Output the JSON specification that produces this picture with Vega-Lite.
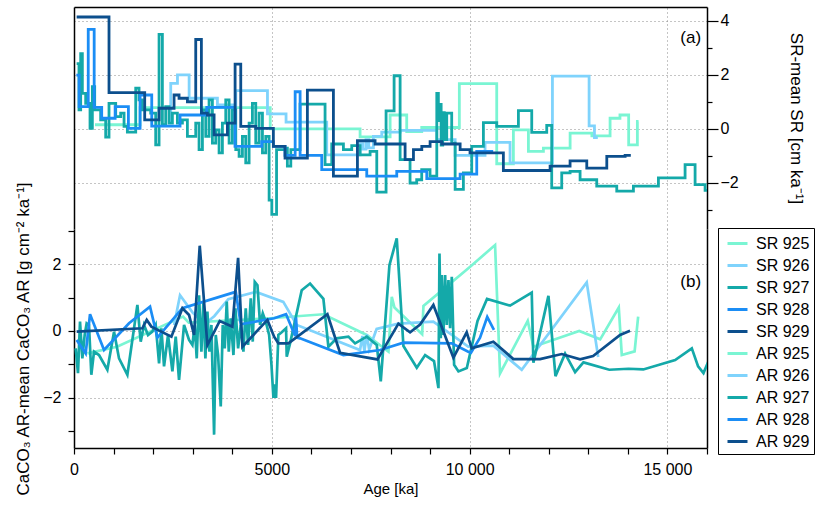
{
"$schema": "https://vega.github.io/schema/vega-lite/v6.json",
"padding": {"left": 14, "top": 7, "right": 5, "bottom": 5},
"background": "white",
"config": {
 "font": "Liberation Sans",
 "view": {"stroke": null},
 "axis": {"labelFont": "Liberation Sans", "titleFont": "Liberation Sans", "labelFontSize": 16, "titleFontSize": 15, "titleFontWeight": "normal", "labelColor": "black", "titleColor": "black", "domainColor": "black", "tickColor": "black", "domainWidth": 1.5, "tickWidth": 1.2, "gridColor": "#8a8a8a", "gridDash": [1, 3], "gridWidth": 1},
 "legend": {"labelFont": "Liberation Sans", "labelFontSize": 16, "labelColor": "black", "strokeColor": "black", "fillColor": "white", "padding": 4, "rowPadding": 2, "labelOffset": 7, "symbolOffset": 4, "symbolType": "stroke", "symbolStrokeWidth": 3, "symbolSize": 400}
},
"datasets": {
 "sr": [
  {"s":"SR 925","a":530,"v":0.15},{"s":"SR 925","a":1670,"v":0.78},{"s":"SR 925","a":4960,"v":0.0},{"s":"SR 925","a":7231,"v":-0.3},{"s":"SR 925","a":7990,"v":0.51},{"s":"SR 925","a":8410,"v":-0.1},{"s":"SR 925","a":8790,"v":0.05},{"s":"SR 925","a":9740,"v":1.67},{"s":"SR 925","a":10685,"v":-1.29},{"s":"SR 925","a":11106,"v":-0.04},{"s":"SR 925","a":11486,"v":-0.83},{"s":"SR 925","a":11865,"v":-0.71},{"s":"SR 925","a":12540,"v":-0.16},{"s":"SR 925","a":13090,"v":-0.26},{"s":"SR 925","a":13550,"v":0.39},{"s":"SR 925","a":13800,"v":0.51},{"s":"SR 925","a":14020,"v":-0.59},{"s":"SR 925","a":14240,"v":0.27},{"s":"SR 925","a":14270,"v":0.27},
  {"s":"SR 926","a":2400,"v":0.3},{"s":"SR 926","a":2445,"v":1.68},{"s":"SR 926","a":2615,"v":1.99},{"s":"SR 926","a":2910,"v":1.13},{"s":"SR 926","a":3625,"v":0.88},{"s":"SR 926","a":4090,"v":1.41},{"s":"SR 926","a":4890,"v":0.55},{"s":"SR 926","a":5360,"v":0.25},{"s":"SR 926","a":6388,"v":-0.96},{"s":"SR 926","a":7231,"v":-0.55},{"s":"SR 926","a":7300,"v":-0.75},{"s":"SR 926","a":7380,"v":-0.4},{"s":"SR 926","a":7450,"v":-0.7},{"s":"SR 926","a":7568,"v":-0.28},{"s":"SR 926","a":7779,"v":-0.12},{"s":"SR 926","a":8243,"v":-0.06},{"s":"SR 926","a":9170,"v":-0.4},{"s":"SR 926","a":9634,"v":-0.98},{"s":"SR 926","a":10390,"v":-0.5},{"s":"SR 926","a":11022,"v":-1.26},{"s":"SR 926","a":12093,"v":1.95},{"s":"SR 926","a":13020,"v":0.11},{"s":"SR 926","a":13155,"v":-0.32},{"s":"SR 926","a":13240,"v":-0.32},
  {"s":"SR 927","a":67,"v":2.41},{"s":"SR 927","a":126,"v":0.7},{"s":"SR 927","a":169,"v":2.78},{"s":"SR 927","a":211,"v":1.31},{"s":"SR 927","a":295,"v":0.94},{"s":"SR 927","a":405,"v":0.02},{"s":"SR 927","a":464,"v":1.56},{"s":"SR 927","a":523,"v":0.7},{"s":"SR 927","a":674,"v":0.33},{"s":"SR 927","a":801,"v":-0.31},{"s":"SR 927","a":885,"v":0.94},{"s":"SR 927","a":1054,"v":0.45},{"s":"SR 927","a":1180,"v":0.58},{"s":"SR 927","a":1265,"v":0.09},{"s":"SR 927","a":1349,"v":-0.12},{"s":"SR 927","a":1560,"v":1.5},{"s":"SR 927","a":1644,"v":1.07},{"s":"SR 927","a":1728,"v":0.7},{"s":"SR 927","a":1939,"v":0.58},{"s":"SR 927","a":2065,"v":-0.59},{"s":"SR 927","a":2150,"v":3.49},{"s":"SR 927","a":2234,"v":0.15},{"s":"SR 927","a":2318,"v":0.82},{"s":"SR 927","a":2403,"v":0.21},{"s":"SR 927","a":2487,"v":0.58},{"s":"SR 927","a":2613,"v":0.21},{"s":"SR 927","a":2740,"v":0.33},{"s":"SR 927","a":2866,"v":-0.28},{"s":"SR 927","a":3077,"v":0.21},{"s":"SR 927","a":3161,"v":-0.77},{"s":"SR 927","a":3246,"v":0.7},{"s":"SR 927","a":3330,"v":-0.28},{"s":"SR 927","a":3414,"v":1.07},{"s":"SR 927","a":3498,"v":-0.53},{"s":"SR 927","a":3583,"v":-0.04},{"s":"SR 927","a":3667,"v":-0.89},{"s":"SR 927","a":3751,"v":0.21},{"s":"SR 927","a":3836,"v":1.07},{"s":"SR 927","a":3920,"v":-0.53},{"s":"SR 927","a":4004,"v":0.7},{"s":"SR 927","a":4089,"v":-0.77},{"s":"SR 927","a":4173,"v":-1.02},{"s":"SR 927","a":4257,"v":-0.28},{"s":"SR 927","a":4341,"v":-1.26},{"s":"SR 927","a":4426,"v":0.21},{"s":"SR 927","a":4510,"v":0.94},{"s":"SR 927","a":4594,"v":-0.53},{"s":"SR 927","a":4679,"v":0.58},{"s":"SR 927","a":4763,"v":-0.89},{"s":"SR 927","a":4847,"v":-0.28},{"s":"SR 927","a":4932,"v":-2.63},{"s":"SR 927","a":5000,"v":-3.16},{"s":"SR 927","a":5120,"v":-0.77},{"s":"SR 927","a":5334,"v":-0.71},{"s":"SR 927","a":5393,"v":-1.38},{"s":"SR 927","a":5480,"v":-0.77},{"s":"SR 927","a":5714,"v":0.91},{"s":"SR 927","a":6346,"v":-1.32},{"s":"SR 927","a":6515,"v":-0.56},{"s":"SR 927","a":6810,"v":-0.77},{"s":"SR 927","a":7020,"v":-0.62},{"s":"SR 927","a":7231,"v":-0.96},{"s":"SR 927","a":7484,"v":-0.83},{"s":"SR 927","a":7653,"v":-2.34},{"s":"SR 927","a":7888,"v":0.66},{"s":"SR 927","a":8091,"v":1.96},{"s":"SR 927","a":8243,"v":-1.14},{"s":"SR 927","a":8494,"v":-2.0},{"s":"SR 927","a":8662,"v":-1.88},{"s":"SR 927","a":8789,"v":-1.51},{"s":"SR 927","a":8999,"v":-1.75},{"s":"SR 927","a":9170,"v":1.31},{"s":"SR 927","a":9210,"v":0.3},{"s":"SR 927","a":9240,"v":0.9},{"s":"SR 927","a":9280,"v":-0.6},{"s":"SR 927","a":9320,"v":0.6},{"s":"SR 927","a":9360,"v":-0.4},{"s":"SR 927","a":9421,"v":0.58},{"s":"SR 927","a":9547,"v":-0.53},{"s":"SR 927","a":9634,"v":-2.24},{"s":"SR 927","a":9842,"v":-1.63},{"s":"SR 927","a":10053,"v":-0.65},{"s":"SR 927","a":10348,"v":0.23},{"s":"SR 927","a":10685,"v":0.09},{"s":"SR 927","a":11233,"v":0.67},{"s":"SR 927","a":11570,"v":-0.13},{"s":"SR 927","a":11949,"v":0.13},{"s":"SR 927","a":12075,"v":-2.18},{"s":"SR 927","a":12328,"v":-1.63},{"s":"SR 927","a":12539,"v":-1.57},{"s":"SR 927","a":12792,"v":-1.88},{"s":"SR 927","a":13213,"v":-2.12},{"s":"SR 927","a":13719,"v":-2.3},{"s":"SR 927","a":14140,"v":-2.12},{"s":"SR 927","a":14772,"v":-1.81},{"s":"SR 927","a":15446,"v":-1.32},{"s":"SR 927","a":15699,"v":-2.06},{"s":"SR 927","a":15952,"v":-2.27},{"s":"SR 927","a":16100,"v":-2.27},
  {"s":"SR 928","a":60,"v":1.98},{"s":"SR 928","a":130,"v":0.82},{"s":"SR 928","a":360,"v":3.67},{"s":"SR 928","a":510,"v":0.79},{"s":"SR 928","a":700,"v":0.39},{"s":"SR 928","a":1040,"v":0.82},{"s":"SR 928","a":1375,"v":0.02},{"s":"SR 928","a":1670,"v":1.25},{"s":"SR 928","a":1965,"v":0.1},{"s":"SR 928","a":2680,"v":0.51},{"s":"SR 928","a":3355,"v":0.79},{"s":"SR 928","a":4070,"v":-0.65},{"s":"SR 928","a":4745,"v":-0.47},{"s":"SR 928","a":5040,"v":-0.65},{"s":"SR 928","a":5334,"v":-0.98},{"s":"SR 928","a":5590,"v":1.37},{"s":"SR 928","a":5715,"v":-0.98},{"s":"SR 928","a":6262,"v":-1.51},{"s":"SR 928","a":7400,"v":-1.75},{"s":"SR 928","a":8158,"v":-1.57},{"s":"SR 928","a":8917,"v":-1.84},{"s":"SR 928","a":9760,"v":-1.67},{"s":"SR 928","a":10180,"v":-0.83},{"s":"SR 928","a":10560,"v":-0.89},
  {"s":"SR 929","a":67,"v":4.13},{"s":"SR 929","a":885,"v":1.34},{"s":"SR 929","a":1787,"v":0.33},{"s":"SR 929","a":2150,"v":0.76},{"s":"SR 929","a":2529,"v":1.25},{"s":"SR 929","a":2655,"v":1.13},{"s":"SR 929","a":2866,"v":1.0},{"s":"SR 929","a":3077,"v":3.3},{"s":"SR 929","a":3220,"v":0.58},{"s":"SR 929","a":3372,"v":0.51},{"s":"SR 929","a":3541,"v":-0.22},{"s":"SR 929","a":3878,"v":0.21},{"s":"SR 929","a":4072,"v":2.39},{"s":"SR 929","a":4215,"v":0.09},{"s":"SR 929","a":4594,"v":0.02},{"s":"SR 929","a":5039,"v":-0.65},{"s":"SR 929","a":5334,"v":-1.08},{"s":"SR 929","a":5899,"v":1.43},{"s":"SR 929","a":6557,"v":-1.75},{"s":"SR 929","a":7164,"v":-0.44},{"s":"SR 929","a":7610,"v":-0.56},{"s":"SR 929","a":8369,"v":-1.14},{"s":"SR 929","a":8580,"v":-0.77},{"s":"SR 929","a":8791,"v":-0.65},{"s":"SR 929","a":9001,"v":-0.47},{"s":"SR 929","a":9296,"v":-0.56},{"s":"SR 929","a":9760,"v":-0.77},{"s":"SR 929","a":10010,"v":-0.89},{"s":"SR 929","a":10853,"v":-1.54},{"s":"SR 929","a":12034,"v":-1.38},{"s":"SR 929","a":12539,"v":-1.18},{"s":"SR 929","a":12961,"v":-1.45},{"s":"SR 929","a":13467,"v":-1.02},{"s":"SR 929","a":13930,"v":-0.98},{"s":"SR 929","a":14074,"v":-0.98}
 ],
 "ar": [
  {"s":"AR 925","a":337,"v":-0.67},{"s":"AR 925","a":1087,"v":-0.47},{"s":"AR 925","a":2756,"v":0.43},{"s":"AR 925","a":2900,"v":0.25},{"s":"AR 925","a":4955,"v":0.38},{"s":"AR 925","a":6304,"v":0.5},{"s":"AR 925","a":7400,"v":-0.12},{"s":"AR 925","a":7948,"v":-0.62},{"s":"AR 925","a":8032,"v":1.02},{"s":"AR 925","a":8100,"v":0.7},{"s":"AR 925","a":8800,"v":-0.1},{"s":"AR 925","a":8833,"v":0.75},{"s":"AR 925","a":10013,"v":1.92},{"s":"AR 925","a":10643,"v":2.57},{"s":"AR 925","a":10769,"v":-1.27},{"s":"AR 925","a":11469,"v":0.3},{"s":"AR 925","a":11612,"v":-0.47},{"s":"AR 925","a":12034,"v":-0.3},{"s":"AR 925","a":12770,"v":0.0},{"s":"AR 925","a":13300,"v":-0.25},{"s":"AR 925","a":13770,"v":0.7},{"s":"AR 925","a":13846,"v":-0.72},{"s":"AR 925","a":14170,"v":-0.61},{"s":"AR 925","a":14260,"v":0.43},
  {"s":"AR 926","a":2530,"v":0.18},{"s":"AR 926","a":2680,"v":1.07},{"s":"AR 926","a":3000,"v":0.55},{"s":"AR 926","a":3300,"v":0.2},{"s":"AR 926","a":3550,"v":0.45},{"s":"AR 926","a":3900,"v":0.95},{"s":"AR 926","a":4600,"v":1.17},{"s":"AR 926","a":5290,"v":0.87},{"s":"AR 926","a":5630,"v":0.18},{"s":"AR 926","a":7230,"v":-0.57},{"s":"AR 926","a":7290,"v":-0.15},{"s":"AR 926","a":7340,"v":-0.6},{"s":"AR 926","a":7400,"v":-0.1},{"s":"AR 926","a":7460,"v":-0.55},{"s":"AR 926","a":7650,"v":0.06},{"s":"AR 926","a":8200,"v":0.22},{"s":"AR 926","a":9083,"v":0.28},{"s":"AR 926","a":9965,"v":-0.47},{"s":"AR 926","a":10600,"v":-0.44},{"s":"AR 926","a":11317,"v":-1.16},{"s":"AR 926","a":12960,"v":1.45},{"s":"AR 926","a":13250,"v":-0.78},
  {"s":"AR 927","a":42,"v":-0.52},{"s":"AR 927","a":101,"v":-1.26},{"s":"AR 927","a":152,"v":0.28},{"s":"AR 927","a":211,"v":-0.82},{"s":"AR 927","a":270,"v":-0.12},{"s":"AR 927","a":320,"v":0.23},{"s":"AR 927","a":379,"v":0.18},{"s":"AR 927","a":438,"v":-1.31},{"s":"AR 927","a":506,"v":-0.62},{"s":"AR 927","a":632,"v":-0.72},{"s":"AR 927","a":843,"v":-1.16},{"s":"AR 927","a":1012,"v":-0.02},{"s":"AR 927","a":1138,"v":-0.82},{"s":"AR 927","a":1349,"v":-1.31},{"s":"AR 927","a":1602,"v":0.78},{"s":"AR 927","a":1686,"v":-0.32},{"s":"AR 927","a":1770,"v":0.18},{"s":"AR 927","a":1871,"v":-0.12},{"s":"AR 927","a":1981,"v":-0.02},{"s":"AR 927","a":2065,"v":0.18},{"s":"AR 927","a":2150,"v":-0.97},{"s":"AR 927","a":2209,"v":0.08},{"s":"AR 927","a":2276,"v":-1.06},{"s":"AR 927","a":2377,"v":-0.12},{"s":"AR 927","a":2487,"v":-1.21},{"s":"AR 927","a":2571,"v":-0.17},{"s":"AR 927","a":2655,"v":-1.46},{"s":"AR 927","a":2782,"v":0.18},{"s":"AR 927","a":2908,"v":-0.27},{"s":"AR 927","a":2993,"v":-0.42},{"s":"AR 927","a":3052,"v":0.18},{"s":"AR 927","a":3102,"v":-0.82},{"s":"AR 927","a":3161,"v":1.07},{"s":"AR 927","a":3220,"v":-0.62},{"s":"AR 927","a":3271,"v":0.88},{"s":"AR 927","a":3321,"v":-0.82},{"s":"AR 927","a":3372,"v":0.58},{"s":"AR 927","a":3423,"v":-0.62},{"s":"AR 927","a":3473,"v":0.18},{"s":"AR 927","a":3541,"v":-3.1},{"s":"AR 927","a":3583,"v":-0.12},{"s":"AR 927","a":3642,"v":-0.72},{"s":"AR 927","a":3709,"v":-2.26},{"s":"AR 927","a":3760,"v":0.18},{"s":"AR 927","a":3810,"v":-0.52},{"s":"AR 927","a":3861,"v":0.88},{"s":"AR 927","a":3912,"v":-0.62},{"s":"AR 927","a":3962,"v":0.38},{"s":"AR 927","a":4030,"v":-0.72},{"s":"AR 927","a":4080,"v":0.68},{"s":"AR 927","a":4148,"v":-0.52},{"s":"AR 927","a":4215,"v":0.18},{"s":"AR 927","a":4282,"v":-0.62},{"s":"AR 927","a":4341,"v":0.68},{"s":"AR 927","a":4400,"v":-0.42},{"s":"AR 927","a":4468,"v":0.98},{"s":"AR 927","a":4518,"v":-0.32},{"s":"AR 927","a":4569,"v":1.47},{"s":"AR 927","a":4637,"v":1.37},{"s":"AR 927","a":4704,"v":0.18},{"s":"AR 927","a":4771,"v":0.53},{"s":"AR 927","a":4847,"v":0.28},{"s":"AR 927","a":4932,"v":-0.12},{"s":"AR 927","a":4991,"v":-1.01},{"s":"AR 927","a":5041,"v":-2.0},{"s":"AR 927","a":5070,"v":-1.6},{"s":"AR 927","a":5107,"v":-2.0},{"s":"AR 927","a":5166,"v":-0.12},{"s":"AR 927","a":5250,"v":-0.04},{"s":"AR 927","a":5360,"v":0.08},{"s":"AR 927","a":5377,"v":-0.77},{"s":"AR 927","a":5461,"v":-0.37},{"s":"AR 927","a":5756,"v":1.22},{"s":"AR 927","a":5967,"v":1.42},{"s":"AR 927","a":6304,"v":0.96},{"s":"AR 927","a":6430,"v":-0.47},{"s":"AR 927","a":6641,"v":-0.22},{"s":"AR 927","a":6936,"v":-0.17},{"s":"AR 927","a":7105,"v":-0.37},{"s":"AR 927","a":7400,"v":-0.17},{"s":"AR 927","a":7653,"v":-0.42},{"s":"AR 927","a":7754,"v":-1.51},{"s":"AR 927","a":7973,"v":1.97},{"s":"AR 927","a":8158,"v":2.77},{"s":"AR 927","a":8327,"v":-0.45},{"s":"AR 927","a":8664,"v":-1.1},{"s":"AR 927","a":8875,"v":-0.72},{"s":"AR 927","a":9100,"v":-0.9},{"s":"AR 927","a":9212,"v":-1.71},{"s":"AR 927","a":9238,"v":2.32},{"s":"AR 927","a":9271,"v":-0.22},{"s":"AR 927","a":9296,"v":1.67},{"s":"AR 927","a":9339,"v":-0.12},{"s":"AR 927","a":9381,"v":1.67},{"s":"AR 927","a":9423,"v":0.18},{"s":"AR 927","a":9465,"v":1.52},{"s":"AR 927","a":9507,"v":0.08},{"s":"AR 927","a":9549,"v":1.62},{"s":"AR 927","a":9608,"v":-1.01},{"s":"AR 927","a":9718,"v":-1.21},{"s":"AR 927","a":9929,"v":-1.11},{"s":"AR 927","a":10200,"v":0.3},{"s":"AR 927","a":10440,"v":0.96},{"s":"AR 927","a":11022,"v":0.76},{"s":"AR 927","a":11570,"v":1.15},{"s":"AR 927","a":11612,"v":-0.95},{"s":"AR 927","a":11992,"v":1.05},{"s":"AR 927","a":12170,"v":-1.35},{"s":"AR 927","a":12413,"v":-0.68},{"s":"AR 927","a":12666,"v":-1.23},{"s":"AR 927","a":12877,"v":-0.94},{"s":"AR 927","a":13530,"v":-1.16},{"s":"AR 927","a":14015,"v":-1.13},{"s":"AR 927","a":14390,"v":-1.15},{"s":"AR 927","a":15195,"v":-0.87},{"s":"AR 927","a":15616,"v":-0.52},{"s":"AR 927","a":15775,"v":-1.06},{"s":"AR 927","a":15911,"v":-1.26},{"s":"AR 927","a":16038,"v":-0.9},
  {"s":"AR 928","a":67,"v":-0.27},{"s":"AR 928","a":295,"v":-0.67},{"s":"AR 928","a":405,"v":0.5},{"s":"AR 928","a":759,"v":-0.57},{"s":"AR 928","a":1391,"v":0.23},{"s":"AR 928","a":1922,"v":0.73},{"s":"AR 928","a":2108,"v":-0.2},{"s":"AR 928","a":2740,"v":0.68},{"s":"AR 928","a":4089,"v":1.17},{"s":"AR 928","a":4215,"v":0.2},{"s":"AR 928","a":5058,"v":0.38},{"s":"AR 928","a":5360,"v":0.5},{"s":"AR 928","a":5590,"v":-0.15},{"s":"AR 928","a":5612,"v":0.4},{"s":"AR 928","a":5640,"v":-0.2},{"s":"AR 928","a":5714,"v":-0.22},{"s":"AR 928","a":6810,"v":-0.72},{"s":"AR 928","a":7737,"v":-0.57},{"s":"AR 928","a":8327,"v":-0.35},{"s":"AR 928","a":9550,"v":-0.37},{"s":"AR 928","a":9965,"v":-0.62},{"s":"AR 928","a":10036,"v":-0.65},{"s":"AR 928","a":10263,"v":-0.2},{"s":"AR 928","a":10445,"v":0.42},{"s":"AR 928","a":10615,"v":0.03},
  {"s":"AR 929","a":67,"v":-0.02},{"s":"AR 929","a":1728,"v":0.08},{"s":"AR 929","a":1838,"v":0.33},{"s":"AR 929","a":1956,"v":0.13},{"s":"AR 929","a":2462,"v":-0.17},{"s":"AR 929","a":2740,"v":0.68},{"s":"AR 929","a":2908,"v":0.48},{"s":"AR 929","a":3035,"v":-0.12},{"s":"AR 929","a":3178,"v":2.55},{"s":"AR 929","a":3372,"v":-0.42},{"s":"AR 929","a":3684,"v":0.3},{"s":"AR 929","a":4004,"v":0.13},{"s":"AR 929","a":4148,"v":2.19},{"s":"AR 929","a":4257,"v":-0.47},{"s":"AR 929","a":4889,"v":0.33},{"s":"AR 929","a":5058,"v":-0.17},{"s":"AR 929","a":5166,"v":-0.37},{"s":"AR 929","a":5419,"v":-0.37},{"s":"AR 929","a":6405,"v":0.5},{"s":"AR 929","a":6725,"v":-0.65},{"s":"AR 929","a":7670,"v":-0.85},{"s":"AR 929","a":8200,"v":0.22},{"s":"AR 929","a":8495,"v":-0.04},{"s":"AR 929","a":8748,"v":0.19},{"s":"AR 929","a":9084,"v":0.78},{"s":"AR 929","a":9590,"v":-0.8},{"s":"AR 929","a":9926,"v":-0.04},{"s":"AR 929","a":10053,"v":-0.52},{"s":"AR 929","a":10600,"v":-0.32},{"s":"AR 929","a":11106,"v":-0.84},{"s":"AR 929","a":11781,"v":-0.84},{"s":"AR 929","a":12329,"v":-0.69},{"s":"AR 929","a":12792,"v":-0.85},{"s":"AR 929","a":13121,"v":-0.75},{"s":"AR 929","a":13803,"v":-0.12},{"s":"AR 929","a":14055,"v":0.01}
 ]
},
"spacing": 0,
"bounds": "flush",
"vconcat": [
 {
  "width": 633, "height": 222,
  "layer": [
   {
    "data": {"name": "sr"},
    "mark": {"type": "line", "interpolate": "step-after", "strokeWidth": 2.8, "clip": true},
    "encoding": {
     "x": {"field": "a", "type": "quantitative", "scale": {"domain": [0, 16000], "nice": false, "zero": false}, "axis": {"orient": "top", "values": [0, 5000, 10000, 15000], "labels": false, "ticks": false, "grid": true, "title": null}},
     "y": {"field": "v", "type": "quantitative", "scale": {"domain": [-3.7, 4.5], "nice": false, "zero": false}, "axis": {"orient": "right", "values": [-3, -2, -1, 0, 1, 2, 3, 4], "labelExpr": "datum.value % 2 === 0 ? datum.label : ''", "labelOverlap": false, "grid": true, "gridOpacity": {"condition": {"test": "datum.value % 2 === 0", "value": 1}, "value": 0}, "tickSize": {"condition": {"test": "datum.value % 2 === 0", "value": 11}, "value": 5}, "labelPadding": 2, "title": "SR-mean SR [cm ka⁻¹]", "titleFontSize": 17, "titleAngle": 90, "titlePadding": 48}},
     "color": {"field": "s", "type": "nominal", "scale": {"domain": ["SR 925","SR 926","SR 927","SR 928","SR 929","AR 925","AR 926","AR 927","AR 928","AR 929"], "range": ["#7af5d3","#7fd3fc","#14a9a9","#1b8df5","#0c4f8d","#7af5d3","#7fd3fc","#14a9a9","#1b8df5","#0c4f8d"]}, "legend": {"orient": "none", "legendX": 644, "legendY": 221, "title": null}}
    }
   },
   {
    "data": {"values": [{"t": "(a)", "a": 15850, "v": 3.35}]},
    "mark": {"type": "text", "align": "right", "baseline": "middle", "fontSize": 17, "font": "Liberation Sans", "color": "black"},
    "encoding": {
     "x": {"field": "a", "type": "quantitative", "axis": {"orient": "top", "values": [0, 5000, 10000, 15000], "labels": false, "ticks": false, "grid": true, "title": null}},
     "y": {"field": "v", "type": "quantitative", "axis": {"orient": "left", "labels": false, "ticks": false, "grid": false, "title": null}},
     "text": {"field": "t"}
    }
   }
  ],
  "resolve": {"axis": {"y": "independent"}}
 },
 {
  "width": 633, "height": 219,
  "layer": [
   {
    "data": {"name": "ar"},
    "mark": {"type": "line", "strokeWidth": 2.7, "clip": true},
    "encoding": {
     "x": {"field": "a", "type": "quantitative", "scale": {"domain": [0, 16000], "nice": false, "zero": false}, "axis": {"orient": "bottom", "values": [0,1000,2000,3000,4000,5000,6000,7000,8000,9000,10000,11000,12000,13000,14000,15000,16000], "labelExpr": "datum.value === 0 ? '0' : datum.value === 5000 ? '5000' : datum.value === 10000 ? '10 000' : datum.value === 15000 ? '15 000' : ''", "labelOverlap": false, "labelFlush": false, "grid": true, "gridOpacity": {"condition": {"test": "datum.value % 5000 === 0", "value": 1}, "value": 0}, "tickSize": 6, "labelPadding": 7, "title": "Age [ka]", "titlePadding": 4}},
     "y": {"field": "v", "type": "quantitative", "scale": {"domain": [-3.5, 3.05], "nice": false, "zero": false}, "axis": {"orient": "left", "values": [-3, -2, -1, 0, 1, 2, 3], "labelExpr": "datum.value % 2 === 0 ? datum.label : ''", "labelOverlap": false, "grid": true, "gridOpacity": {"condition": {"test": "datum.value % 2 === 0", "value": 1}, "value": 0}, "tickSize": 6, "labelPadding": 7, "title": "CaCO₃ AR-mean CaCO₃ AR [g cm⁻² ka⁻¹]", "titleFontSize": 17, "titlePadding": 10}},
     "color": {"field": "s", "type": "nominal", "scale": {"domain": ["SR 925","SR 926","SR 927","SR 928","SR 929","AR 925","AR 926","AR 927","AR 928","AR 929"], "range": ["#7af5d3","#7fd3fc","#14a9a9","#1b8df5","#0c4f8d","#7af5d3","#7fd3fc","#14a9a9","#1b8df5","#0c4f8d"]}, "legend": {"orient": "none", "legendX": 644, "legendY": 221, "title": null}}
    }
   },
   {
    "data": {"values": [{"t": "(b)", "a": 15850, "v": 1.46}]},
    "mark": {"type": "text", "align": "right", "baseline": "middle", "fontSize": 17, "font": "Liberation Sans", "color": "black"},
    "encoding": {
     "x": {"field": "a", "type": "quantitative", "axis": {"orient": "bottom", "values": [0,1000,2000,3000,4000,5000,6000,7000,8000,9000,10000,11000,12000,13000,14000,15000,16000], "labelExpr": "datum.value === 0 ? '0' : datum.value === 5000 ? '5000' : datum.value === 10000 ? '10 000' : datum.value === 15000 ? '15 000' : ''", "labelOverlap": false, "labelFlush": false, "grid": true, "gridOpacity": {"condition": {"test": "datum.value % 5000 === 0", "value": 1}, "value": 0}, "tickSize": 6, "labelPadding": 7, "title": "Age [ka]", "titlePadding": 4}},
     "y": {"field": "v", "type": "quantitative", "axis": {"orient": "right", "labels": false, "ticks": false, "grid": false, "title": null}},
     "text": {"field": "t"}
    }
   }
  ],
  "resolve": {"axis": {"y": "independent"}}
 }
]
}
